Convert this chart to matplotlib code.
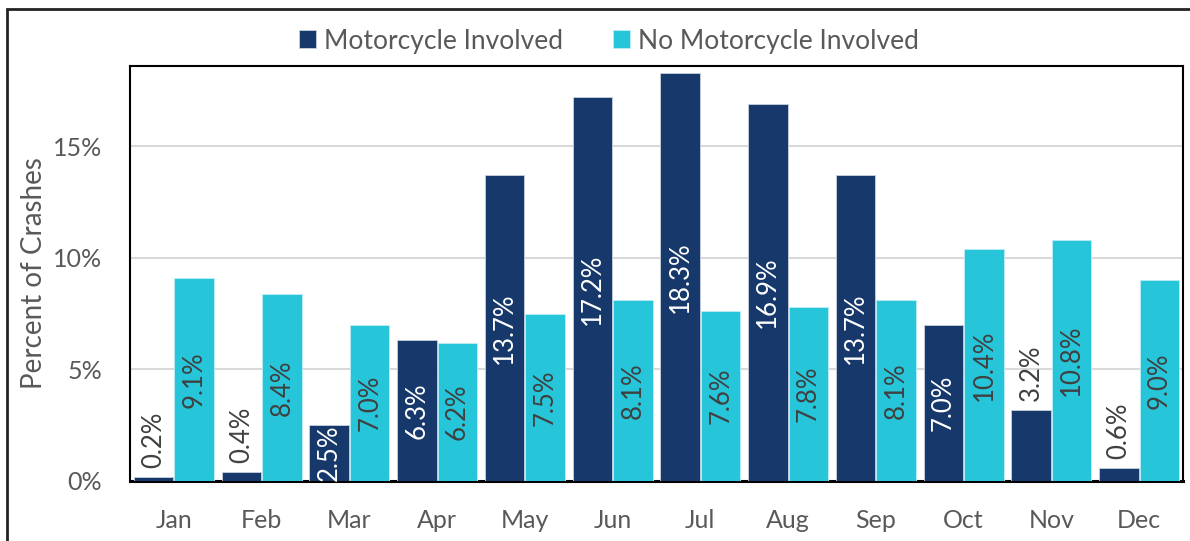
import matplotlib.pyplot as plt
import numpy as np
from matplotlib.patches import Rectangle

months = ['Jan', 'Feb', 'Mar', 'Apr', 'May', 'Jun',
          'Jul', 'Aug', 'Sep', 'Oct', 'Nov', 'Dec']
moto = [0.2, 0.4, 2.5, 6.3, 13.7, 17.2, 18.3, 16.9, 13.7, 7.0, 3.2, 0.6]
no_moto = [9.1, 8.4, 7.0, 6.2, 7.5, 8.1, 7.6, 7.8, 8.1, 10.4, 10.8, 9.0]
yticks = [0, 5, 10, 15]

# which motorcycle labels sit above the bar instead of in the middle
moto_outside = [True, True, False, False, False, False,
                False, False, False, False, True, True]

dark = '#17386A'
cyan = '#26C5D9'
grey_txt = '#595959'
lbl_txt = '#404040'

plt.rcParams['font.family'] = ['Lato', 'DejaVu Sans']


def main():
    fig = plt.figure(figsize=(11.9, 5.41), dpi=100)
    ax = fig.add_axes([130 / 1190, 1 - 481 / 541, 1053 / 1190, 415 / 541])

    x = np.arange(len(months))
    w = 0.45
    off = 0.232
    b1 = ax.bar(x - off, moto, w, color=dark, edgecolor='#c8d0dc', linewidth=0.6,
                label='Motorcycle Involved', zorder=3)
    b2 = ax.bar(x + off, no_moto, w, color=cyan, edgecolor='#bfeef4', linewidth=0.6,
                label='No Motorcycle Involved', zorder=3)

    fs = 18.5
    for rect, v, out in zip(b1, moto, moto_outside):
        cx = rect.get_x() + rect.get_width() / 2
        if out:
            ax.text(cx, v + 0.4, f'{v:.1f}%', rotation=90, ha='center', va='bottom',
                    color=lbl_txt, fontsize=fs, zorder=4)
        else:
            ax.text(cx, v / 2, f'{v:.1f}%', rotation=90, ha='center', va='center',
                    color='white', fontsize=fs, zorder=4)
    for rect, v in zip(b2, no_moto):
        cx = rect.get_x() + rect.get_width() / 2
        ax.text(cx, v / 2, f'{v:.1f}%', rotation=90, ha='center', va='center',
                color=lbl_txt, fontsize=fs, zorder=4)

    ax.set_xlim(-0.5, len(months) - 0.5)
    ax.set_ylim(0, 18.6)
    ax.set_yticks(yticks)
    ax.set_yticklabels([f'{t}%' for t in yticks])
    ax.set_xticks(x)
    ax.set_xticklabels(months)
    ax.tick_params(length=0, labelsize=18, colors=grey_txt)
    ax.tick_params(axis='y', pad=20)
    ax.tick_params(axis='x', pad=20)
    ax.yaxis.grid(True, color='#d9d9d9', linewidth=1.5, zorder=0)
    ax.set_axisbelow(True)
    ax.set_ylabel('Percent of Crashes', fontsize=20, color=grey_txt, labelpad=4)

    for s in ax.spines.values():
        s.set_color('black')
        s.set_linewidth(1.5)
    ax.spines['bottom'].set_linewidth(2.2)

    fig.legend(loc='center', bbox_to_anchor=(609 / 1190, 1 - 41 / 541), ncol=2,
               frameon=False, fontsize=19, handlelength=0.65, handleheight=0.65,
               handletextpad=0.3, columnspacing=1.9, labelcolor=grey_txt)

    # outer chart frame
    fig.patches.append(Rectangle((7 / 1190, -0.05), 1.1, 1.05 - 9 / 541,
                                 transform=fig.transFigure, fill=False,
                                 edgecolor='#222222', linewidth=2))

    fig.savefig('out.png', dpi=100)


if __name__ == '__main__':
    main()
